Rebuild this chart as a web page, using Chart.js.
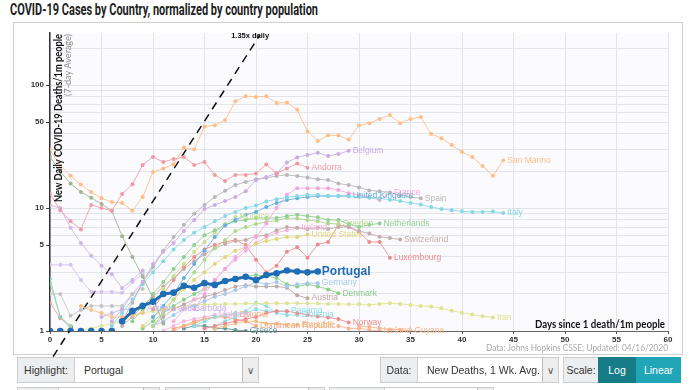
<!DOCTYPE html>
<html><head><meta charset="utf-8">
<script src="https://cdn.jsdelivr.net/npm/chart.js@4.4.0/dist/chart.umd.min.js"></script>
<style>
body{margin:0;width:694px;height:390px;overflow:hidden;background:#fff;font-family:"Open Sans",Roboto,sans-serif;position:relative}
#title{position:absolute;left:10px;top:2px;font-weight:bold;font-size:16px;font-family:"Liberation Sans Narrow","Roboto",sans-serif;color:#222;white-space:nowrap;line-height:1;transform-origin:0 0}
#frame{position:absolute;left:13px;top:22px;width:670px;height:333px;border:1px solid #cfcfcf;box-sizing:border-box}
#wrap{position:absolute;left:0;top:0;width:694px;height:390px}
.lab,.sel,.btn{position:absolute;box-sizing:border-box;font-size:10.5px;color:#333;display:flex;align-items:center;font-family:"Liberation Sans",Arial,sans-serif;white-space:nowrap;overflow:hidden}
.lab{background:#eceeef;border:1px solid #ccc;justify-content:center}
.sel{background:#fff;border:1px solid #ccc;padding-left:9px}
.arr{position:absolute;right:0;top:0;bottom:0;width:15px;background:#eee;border-left:1px solid #bbb;display:flex;align-items:center;justify-content:center;color:#555;font-size:10px}
.btn{color:#fff;justify-content:center}
</style></head><body>
<div id="frame"></div>
<div id="title">COVID-19 Cases by Country, normalized by country population</div>
<div id="wrap"><canvas id="c" width="694" height="390"></canvas></div>
<div class="lab" style="left:17px;top:357px;width:58px;height:26px">Highlight:</div>
<div class="sel" style="left:74px;top:357px;width:185px;height:26px">Portugal<div class="arr">&#8744;</div></div>
<div class="lab" style="left:380px;top:357px;width:38px;height:26px">Data:</div>
<div class="sel" style="left:417px;top:357px;width:142px;height:26px">New Deaths, 1 Wk. Avg.<div class="arr">&#8744;</div></div>
<div class="lab" style="left:563px;top:357px;width:36px;height:26px">Scale:</div>
<div class="btn" style="left:598px;top:357px;width:38px;height:26px;background:#167d88">Log</div>
<div class="btn" style="left:636px;top:357px;width:45px;height:26px;background:#20a6b6">Linear</div>
<div class="lab" style="left:17px;top:387px;width:42px;height:20px"></div>
<div class="sel" style="left:58px;top:387px;width:102px;height:20px"><div class="arr"></div></div>
<div class="lab" style="left:165px;top:387px;width:45px;height:20px"></div>
<div class="sel" style="left:209px;top:387px;width:116px;height:20px"><div class="arr"></div></div>
<div class="lab" style="left:329px;top:387px;width:56px;height:20px"></div>
<div class="sel" style="left:384px;top:387px;width:110px;height:20px"><div class="arr"></div></div>
<script>
// ---- data: start day + values per country (new deaths per 1m people, 7-day avg) ----
const sanMarinoStart = 0;
const sanMarino = [30,22,18.3,15.5,13.5,12,11.2,11,9.5,12.3,19.6,21,22.7,31,30,46,47,52,74,81,80,81,71.5,72,63,42,35,39,39,36,47,49,53,57,49,53,55,40,37,32.5,28.5,26,22,18.3,24.4];
const andorraStart = 0;
const andorra = [13,9.6,7.8,6.7,10.6,10,9.5,13,15.6,22.4,26,23.7,25,26,22.4,23.7,18.6,16.6,18.6,18.6,19.1,22.6,19.1,21,23,21.3];
const oliveStart = 0;
const olive = [26,19.7,15.8,13.5,12.1,10.8,9.5,5.9,4.0,2.76,1.84,1.15];
const purpleStart = 0;
const purple = [10.5,10,6.9,5.2,4.1,3.4,2.9,2.24,2.6,3.1];
const lavenderStart = 0;
const lavender = [3.45,3.45,3.45,2.6,2.08,2.08,2.08,2.05,2.5,2.9];
const grayStart = 0;
const gray = [2.0,2.0,1.33,1.48,1.6,1.6,1.6,1.6,2.0,2.2];
const tealStart = 0;
const teal = [2.65,1.3,1.05];
const greenStart = 0;
const green = [2.45,1.3,1.1];
const redStart = 0;
const red = [1.7,1.27,1.1];
const orangeStart = 3;
const orange = [1.6,1.48,1.4,1.3,1.3,1.35,1.4];
const belgiumStart = 6;
const belgium = [1.2,1.5,2,2.5,3.5,4.4,5.2,6.5,8,9.8,10.6,11.4,12.3,13.7,16.9,17.9,19.2,23.4,25.8,27,28.2,26.5,27.5,29.2];
const spainStart = 7;
const spain = [1.2,1.7,2.5,3.3,4.5,5.8,7.3,9.0,10.6,12.3,13.8,15.4,16.3,17.1,17.6,18.2,18.6,18.2,17.7,17.1,16.9,15.8,15.4,14.7,13.9,13.7,13.4,12.7,12.3,12.0];
const italyStart = 6;
const italy = [1.1,1.4,1.8,2.4,3.0,3.7,4.6,5.5,6.3,7.0,7.8,8.6,9.3,10,10.5,11.3,11.8,12.2,12.5,12.8,12.8,12.6,12.5,12.4,12.3,12.1,12.0,11.7,11.4,11.0,10.7,10.2,9.8,9.6,9.4,9.3,9.3,9.35,9.1];
const ukStart = 10;
const uk = [1.3,1.6,2,2.7,3.5,4.5,5.8,7.2,8,8.8,9.3,10.2,11,11.6,12,12.3,12.5,12.5,12.5,12.6];
const franceStart = 14;
const france = [1.5,2,2.6,3.2,4,4.8,5.8,7.5,10,12.8,14.5,14.5,14.5,14.5,14,13.2,12.7,12.3,11.6,13.3];
const netherlandsStart = 8;
const netherlands = [1.2,1.5,2,2.5,3.2,4,5,6,6.6,7.3,7.8,8.0,8.3,8.3,8.3,8.6,8.8,8.6,8.4,8.0,8.0,7.4,7.0,7.3,7.5];
const swedenStart = 10;
const sweden = [1.1,1.4,1.8,2.3,3,3.8,4.7,5.5,6.5,7.0,7.4,7.7,7.9,8.3,8.2,8.0,7.8,7.5,7.4];
const monacoStart = 11;
const monaco = [2.2,2.8,3.5,4.4,5.3,6.3,7.4,8.5];
const switzerlandStart = 7;
const switzerland = [1.1,1.3,1.6,1.9,2.3,2.7,3.2,3.7,4.2,4.7,5.1,5.4,5.5,5.9,6.0,6.6,7.0,6.9,6.75,6.9,6.75,7.0,7.05,6.5,6.2,5.85,5.7,5.55];
const usStart = 9;
const us = [1.1,1.3,1.5,1.8,2.2,2.6,3.0,3.5,4.0,4.5,4.8,5.1,5.4,5.6,5.8,5.8,6.1];
const irelandStart = 12;
const ireland = [1.2,1.5,1.8,2.2,2.6,3.2,3.8,4.5,5.2,5.8,6.3,6.6,6.9];
const luxembourgStart = 10;
const luxembourg = [1.5,2,2.6,3.3,4,4.6,5,5.3,5.5,5,3.8,3,3.4,4.4,4.8,3.95,5.05,5.3,7.3,7.0,6.4,5.3,5.3,3.95];
const portugalStart = 0;
const portugal = [0,0,0,0,0,0,0,1.2,1.45,1.6,1.73,2.0,2.05,2.33,2.25,2.45,2.37,2.55,2.65,2.76,2.6,2.85,2.95,3.1,3.05,3.0,3.05];
const germanyStart = 10;
const germany = [1.1,1.2,1.35,1.5,1.6,1.75,1.9,2.0,2.15,2.3,2.5,2.4,2.5,2.3,2.4,2.45,2.45];
const denmarkStart = 9;
const denmark = [1.05,1.2,1.4,1.6,1.8,2.0,2.2,2.4,2.55,2.7,2.8,2.85,2.8,2.7,2.4,2.3,2.4,2.3,2.18,2.03];
const austriaStart = 10;
const austria = [1.1,1.3,1.5,1.65,1.8,1.9,2.0,2.15,2.3,2.35,2.3,2.3,2.3,2.25,1.95,1.85];
const iranStart = 3;
const iran = [1.0,1.05,1.1,1.15,1.2,1.3,1.4,1.45,1.5,1.55,1.6,1.62,1.65,1.65,1.66,1.66,1.67,1.67,1.68,1.68,1.68,1.68,1.67,1.67,1.66,1.66,1.65,1.65,1.63,1.66,1.68,1.66,1.63,1.6,1.58,1.53,1.46,1.41,1.36,1.32,1.29];
const norwayStart = 15;
const norway = [1.05,1.1,1.15,1.2,1.25,1.3,1.4,1.45,1.45,1.4,1.35,1.31,1.29,1.25,1.17];
const panamaStart = 14;
const panama = [1.1,1.2,1.3,1.35,1.4,1.4,1.5,1.45,1.45,1.45];
const sloveniaStart = 15;
const slovenia = [1.05,1.1,1.2,1.3,1.45,1.7,1.6,1.4,1.35,1.35];
const estoniaStart = 12;
const estonia = [1.0,1.1,1.15,1.25,1.3,1.35,1.35];
const moldovaStart = 11;
const moldova = [1.0,1.1,1.2,1.25,1.3,1.35];
const dominicanStart = 12;
const dominican = [1.05,1.1,1.2,1.25,1.3,1.3,1.25,1.2,1.1];
const ecuadorStart = 16;
const ecuador = [1.05,1.1,1.15,1.2,1.2,1.15,1.15,1.12,1.12];
const antiguaStart = 5;
const antigua = [1.3,1.4,1.5,1.5,1.53];
const greeceStart = 13;
const greece = [1.05,1.1,1.1,1.05,1.05,1.02,1.0];
const icelandStart = 28;
const iceland = [1.1,1.05,1.05,1.02,1.0];
const guyanaStart = 30;
const guyana = [1.1,1.08,1.05,1.03,1.02,1.0];

const xTicks = [0,5,10,15,20,25,30,35,40,45,50,55,60];
const yGrid = [1,2,3,4,5,6,7,8,9,10,20,30,40,50,60,70,80,90,100,200];
const yLabels = [1,5,10,50,100];
const Y_MIN = 1, Y_MAX = 265;
const guideDays = [0.3, 20.4];
const guideValues = [0.62, 257];

const series = [
 ['San Marino',sanMarinoStart,sanMarino,'#fdbe88'],
 ['Andorra',andorraStart,andorra,'#f29aa4'],
 ['',oliveStart,olive,'#a2b48f'],
 ['',purpleStart,purple,'#cdb6e6'],
 ['',lavenderStart,lavender,'#d3c3ea'],
 ['',grayStart,gray,'#c4c4c4'],
 ['',tealStart,teal,'#8fcfc4'],
 ['',greenStart,green,'#a8d99a'],
 ['',redStart,red,'#f2a0a0'],
 ['',orangeStart,orange,'#f9c08c'],
 ['Belgium',belgiumStart,belgium,'#c8aee4'],
 ['Spain',spainStart,spain,'#b8b8b8'],
 ['Italy',italyStart,italy,'#86d8e4'],
 ['United Kingdom',ukStart,uk,'#62b0dc'],
 ['France',franceStart,france,'#f3a6dc'],
 ['Netherlands',netherlandsStart,netherlands,'#90d190'],
 ['Sweden',swedenStart,sweden,'#b2d88e'],
 ['Monaco',monacoStart,monaco,'#c9e08e'],
 ['Switzerland',switzerlandStart,switzerland,'#c6aca8'],
 ['United States',usStart,us,'#e2d67a'],
 ['Ireland',irelandStart,ireland,'#f3b2d8'],
 ['Luxembourg',luxembourgStart,luxembourg,'#ee8c8c'],
 ['Germany',germanyStart,germany,'#a7c8ea'],
 ['Denmark',denmarkStart,denmark,'#88d088'],
 ['Austria',austriaStart,austria,'#c0aaa5'],
 ['Iran',iranStart,iran,'#dde38e'],
 ['Norway',norwayStart,norway,'#ee8c8c'],
 ['Panama',panamaStart,panama,'#8cdde8'],
 ['Slovenia',sloveniaStart,slovenia,'#8cdde8'],
 ['Estonia',estoniaStart,estonia,'#f8b27c'],
 ['Moldova',moldovaStart,moldova,'#f5b4e2'],
 ['Dominican Republic',dominicanStart,dominican,'#f2a27c'],
 ['Ecuador',ecuadorStart,ecuador,'#f4c07e'],
 ['Antigua and Barbuda',antiguaStart,antigua,'#c9b3ea'],
 ['Greece',greeceStart,greece,'#5e9a9a'],
 ['Iceland',icelandStart,iceland,'#f7b58e'],
 ['Guyana',guyanaStart,guyana,'#f7b58e']
];

// zero days sit on the axis floor of the log scale
const toPts = (start, vals) => vals.map((v,i)=>({x:start+i, y: v > 0 ? v : Y_MIN, zero: !(v > 0)}));
const datasets = series.map(([name,start,vals,col])=>({
  label:name, data:toPts(start,vals), borderColor:col+'dd', backgroundColor:col, lbl:col,
  borderWidth:1, pointRadius:2, pointBorderWidth:0, tension:0, order:1
}));
datasets.push({label:'Portugal', data:toPts(portugalStart,portugal), borderColor:'#1f6db4', backgroundColor:'#1f6db4',
  borderWidth:3, pointRadius:3.3, pointBorderWidth:0, tension:0, order:-1, bold:true,
  segment:{borderColor:(c)=> (c.p0.raw && c.p0.raw.zero) ? 'rgba(0,0,0,0)' : undefined}});
datasets.push({label:'1.35x daily', data:guideDays.map((d,i)=>({x:d,y:guideValues[i]})), borderColor:'#111', borderWidth:1.5,
  borderDash:[8,6], pointRadius:0, clip:false, order:2, guide:true});

const FONT = '"Liberation Sans", Arial, sans-serif';
const TFONT = 'Lato, "Liberation Sans", sans-serif';
function measure(ctx, text, font){ ctx.font = font; return ctx.measureText(text).width; }
function fitText(ctx, text, font, width, x, y, align){
  const w = measure(ctx, text, font); const k = width / w;
  ctx.save(); ctx.translate(x, y); ctx.scale(k, 1); ctx.font = font; ctx.textAlign = align; ctx.fillText(text, 0, 0); ctx.restore();
}

const deco = {
  id:'deco',
  beforeDraw(chart){
    const {ctx, chartArea:a} = chart;
    ctx.save(); ctx.fillStyle='#fbfbfe'; ctx.fillRect(a.left,a.top,a.right-a.left,a.bottom-a.top); ctx.restore();
  },
  afterDatasetsDraw(chart){
    const {ctx, chartArea:a} = chart;
    ctx.save();
    chart.data.datasets.forEach((ds,i)=>{
      const meta = chart.getDatasetMeta(i);
      const last = meta.data[meta.data.length-1];
      if(!last || !ds.label) return;
      if(ds.guide){
        ctx.font = 'bold 7.5px '+FONT; ctx.fillStyle='#111'; ctx.textAlign='center'; ctx.textBaseline='top';
        ctx.fillText(ds.label, last.x-10, a.top-1);
        return;
      }
      if(ds.bold){ ctx.font='bold 12px '+FONT; ctx.fillStyle='#1f6db4'; }
      else { ctx.font='8.5px '+FONT; ctx.fillStyle=ds.lbl; }
      ctx.textAlign='left'; ctx.textBaseline='middle';
      ctx.fillText(ds.label, last.x+4, last.y);
    });
    // axis titles
    ctx.fillStyle='#111'; ctx.textBaseline='alphabetic';
    ctx.save(); ctx.translate(a.left+12, a.top+1); ctx.rotate(-Math.PI/2);
    ctx.fillStyle='#111';
    fitText(ctx,'New Daily COVID-19 Deaths/1m people','bold 10.5px '+TFONT,168,0,0,'right');
    ctx.fillStyle='#8a8a8a';
    fitText(ctx,'(7-day Average)','8.5px '+TFONT,62,0,9,'right');
    ctx.restore();
    ctx.fillStyle='#111';
    fitText(ctx,'Days since 1 death/1m people','bold 11px '+TFONT,130,a.right-3,a.bottom-3,'right');
    ctx.fillStyle='#aaa';
    fitText(ctx,'Data: Johns Hopkins CSSE; Updated: 04/16/2020','8.5px '+TFONT,182,a.right,a.bottom+20,'right');
    ctx.restore();
  }
};

new Chart(document.getElementById('c'), {
  type:'line',
  data:{datasets},
  options:{
    responsive:false, animation:false, events:[],
    layout:{padding:{left:0,top:33,right:26,bottom:0}},
    plugins:{legend:{display:false},tooltip:{enabled:false}},
    scales:{
      x:{type:'linear',min:0,max:60,
        afterBuildTicks(s){ s.ticks = xTicks.map(v=>({value:v})); },
        afterFit(s){ s.height = 59; },
        ticks:{font:{size:8,weight:'bold',family:FONT},color:'#333',padding:1,maxRotation:0,autoSkip:false},
        grid:{color:'#e3e3ec',tickLength:3,tickColor:'#555'},
        border:{display:true,color:'#666',width:1}
      },
      y:{type:'logarithmic',min:Y_MIN,max:Y_MAX,
        afterBuildTicks(s){ s.ticks = yGrid.map(v=>({value:v})); },
        afterFit(s){ s.width = 50; },
        ticks:{autoSkip:false,font:{size:8,weight:'bold',family:FONT},color:'#333',padding:2,
          callback:(v)=> yLabels.includes(v) ? String(v) : ''},
        grid:{color:'#e3e3ec',tickLength:4,tickColor:(c)=> (c.tick && yLabels.includes(c.tick.value)) ? '#444' : 'rgba(0,0,0,0)'},
        border:{display:true,color:'#333',width:1.5}
      }
    }
  },
  plugins:[deco]
});

// title: condensed bold, stretched to the reference width
(function(){
  const el=document.getElementById('title');
  const w = el.getBoundingClientRect().width;
  el.style.transform = 'scaleX(' + (308 / w) + ')';
})();
</script>
</body></html>
